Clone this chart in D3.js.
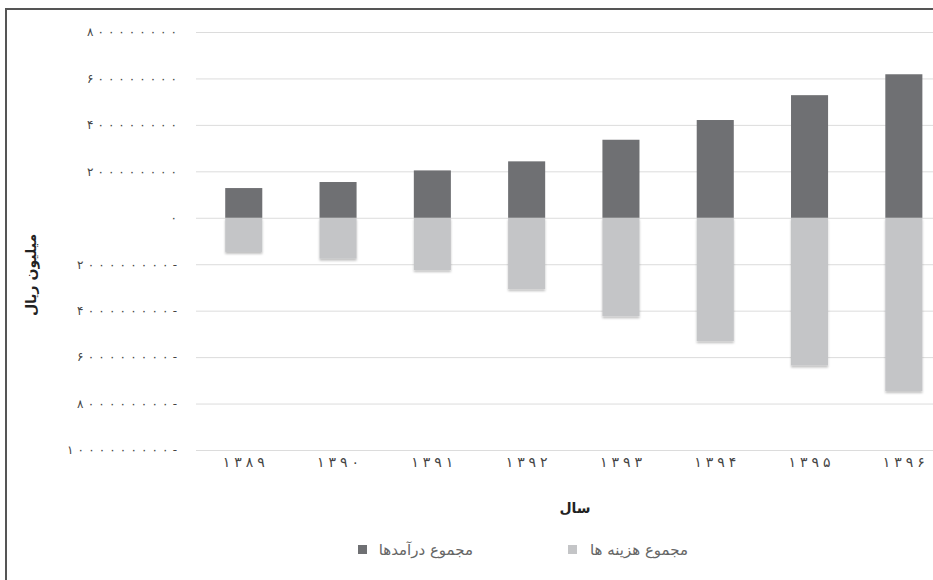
<!DOCTYPE html>
<html>
<head>
<meta charset="utf-8">
<script src="https://cdn.jsdelivr.net/npm/d3@7"></script>
<style>
  body { margin: 0; background: #fff; }
  svg { font-family: "DejaVu Sans", sans-serif; }
</style>
</head>
<body>
<svg id="chart" width="933" height="580"></svg>
<script>
// data (million rial)
const years = ["۱۳۸۹", "۱۳۹۰", "۱۳۹۱", "۱۳۹۲", "۱۳۹۳", "۱۳۹۴", "۱۳۹۵", "۱۳۹۶"];
const income = [128000000, 154000000, 204000000, 243000000, 336000000, 421000000, 528000000, 618000000];
const expense = [-147000000, -176000000, -225000000, -307000000, -424000000, -531000000, -636000000, -746000000];
const yTicks = [800000000, 600000000, 400000000, 200000000, 0, -200000000, -400000000, -600000000, -800000000, -1000000000];
const seriesNames = ["مجموع درآمدها", "مجموع هزینه ها"];
const seriesColors = ["#6f7073", "#c4c5c7"];

const faDigits = "۰۱۲۳۴۵۶۷۸۹";
function toFa(n) {
    let s = String(Math.abs(n)).replace(/[0-9]/g, c => faDigits[+c]);
    return n < 0 ? s + "-" : s;
}

var svg = d3.select("#chart");

var x = d3.scaleBand()
    .domain(years)
    .range([196.6, 951])
    .paddingInner(0.607)
    .paddingOuter(0.3035);

var y = d3.scaleLinear()
    .domain([-1000000000, 800000000])
    .range([450, 32]);

// frame (left + top only visible)
svg.append("line").attr("x1", 6).attr("x2", 6).attr("y1", 9).attr("y2", 580)
    .attr("stroke", "#555").attr("stroke-width", 2);
svg.append("line").attr("x1", 5).attr("x2", 933).attr("y1", 9).attr("y2", 9)
    .attr("stroke", "#555").attr("stroke-width", 2);

// gridlines
svg.append("g")
    .attr("class", "grid")
    .attr("transform", "translate(196,0)")
    .call(d3.axisLeft(y).tickValues(yTicks).tickSize(-740).tickFormat(""))
    .call(g => g.select(".domain").remove())
    .call(g => g.selectAll("line").attr("stroke", "#dcdcdc"));

// y axis labels, stretched to the wide spacing of the original
svg.append("g")
    .attr("transform", "translate(177,0)")
    .call(d3.axisLeft(y).tickValues(yTicks).tickSize(0).tickPadding(0).tickFormat(toFa))
    .call(g => g.select(".domain").remove())
    .call(g => g.selectAll("text")
        .attr("font-family", "DejaVu Sans")
        .attr("font-size", 12)
        .attr("fill", "#444")
        .attr("lengthAdjust", "spacing")
        .attr("textLength", d => toFa(d).length * 10));

// shadow for bars
var defs = svg.append("defs");
defs.append("filter").attr("id", "shadow")
    .attr("x", "-20%").attr("y", "-20%").attr("width", "140%").attr("height", "140%")
    .append("feDropShadow")
    .attr("dx", 0).attr("dy", 2).attr("stdDeviation", 1)
    .attr("flood-color", "#000").attr("flood-opacity", 0.25);

// bars
var rows = years.map((yr, i) => ({ year: yr, inc: income[i], exp: expense[i] }));

svg.append("g").selectAll("rect.exp")
    .data(rows)
    .enter().append("rect")
    .attr("class", "exp")
    .attr("x", d => x(d.year))
    .attr("y", y(0))
    .attr("width", x.bandwidth())
    .attr("height", d => y(d.exp) - y(0))
    .attr("fill", seriesColors[1])
    .attr("filter", "url(#shadow)");

svg.append("g").selectAll("rect.inc")
    .data(rows)
    .enter().append("rect")
    .attr("class", "inc")
    .attr("x", d => x(d.year))
    .attr("y", d => y(d.inc))
    .attr("width", x.bandwidth())
    .attr("height", d => y(0) - y(d.inc))
    .attr("fill", seriesColors[0]);

// x axis labels
svg.append("g")
    .attr("transform", "translate(0,457)")
    .call(d3.axisBottom(x).tickSize(0).tickPadding(0))
    .call(g => g.select(".domain").remove())
    .call(g => g.selectAll("text")
        .attr("font-family", "DejaVu Sans")
        .attr("font-size", 14)
        .attr("fill", "#444")
        .attr("lengthAdjust", "spacing")
        .attr("textLength", 42));

// axis titles
svg.append("text")
    .attr("x", 575)
    .attr("y", 513)
    .attr("text-anchor", "middle")
    .attr("font-weight", "bold")
    .attr("font-size", 14)
    .attr("fill", "#222")
    .text("سال");

svg.append("text")
    .attr("transform", "translate(36,275) rotate(-90)")
    .attr("text-anchor", "middle")
    .attr("font-weight", "bold")
    .attr("font-size", 14)
    .attr("fill", "#222")
    .text("میلیون ریال");

// legend
var legendPos = [{ sq: 358, tx: 473 }, { sq: 568, tx: 688 }];
var legend = svg.selectAll(".legend")
    .data(seriesNames)
    .enter().append("g")
    .attr("class", "legend");

legend.append("rect")
    .attr("x", (d, i) => legendPos[i].sq)
    .attr("y", 545)
    .attr("width", 9)
    .attr("height", 9)
    .attr("fill", (d, i) => seriesColors[i]);

legend.append("text")
    .attr("x", (d, i) => legendPos[i].tx)
    .attr("y", 555)
    .attr("text-anchor", "end")
    .attr("font-size", 15)
    .attr("fill", "#666")
    .text(d => d);
</script>
</body>
</html>
